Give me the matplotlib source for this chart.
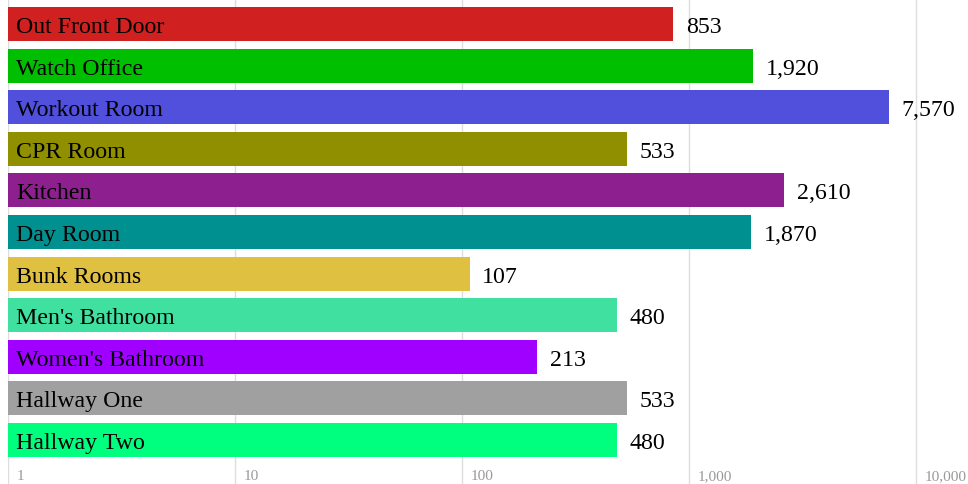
import matplotlib
matplotlib.use("Agg")
import matplotlib.pyplot as plt
import matplotlib.transforms as mtransforms
import numpy as np

categories = ["Out Front Door", "Watch Office", "Workout Room", "CPR Room", "Kitchen",
              "Day Room", "Bunk Rooms", "Men's Bathroom", "Women's Bathroom",
              "Hallway One", "Hallway Two"]
values = [853, 1920, 7570, 533, 2610, 1870, 107, 480, 213, 533, 480]
colors = ["#D02020", "#00BF00", "#5050DC", "#8F8F00", "#8E1F8E", "#009090",
          "#E0C040", "#40E0A0", "#A000FF", "#A0A0A0", "#00FF7F"]
tick_values = [1, 10, 100, 1000, 10000]
tick_labels = ["1", "10", "100", "1,000", "10,000"]

W, H = 968, 485
fig = plt.figure(figsize=(W / 100, H / 100), dpi=100)
ax = fig.add_axes([8 / W, 0, (W - 8) / W, 1])
ax.set_xscale("log")
decade_px = 227.0
ax.set_xlim(1, 10 ** ((W - 8) / decade_px))
pitch = 41.6
first_center = 25.0
ax.set_ylim((H - first_center) / pitch, -first_center / pitch)
ax.axis("off")

for v in tick_values:
    ax.axvline(v, color="#dddddd", lw=1, zorder=0)

y = np.arange(len(categories))
ax.barh(y, values, height=0.82, color=colors, left=1, zorder=2)

serif = ["Liberation Serif", "DejaVu Serif"]
off = mtransforms.offset_copy
for i, (c, v) in enumerate(zip(categories, values)):
    ax.text(1, i, c, transform=off(ax.transData, fig=fig, x=8, y=0, units="dots"),
            ha="left", va="center_baseline", fontsize=17.2, family=serif, color="black", zorder=3)
    ax.text(v, i, f"{v:,}", transform=off(ax.transData, fig=fig, x=13, y=0, units="dots"),
            ha="left", va="center_baseline", fontsize=17.2, family=serif, color="black", zorder=3)

ty = (475 - first_center) / pitch
for v, lab in zip(tick_values, tick_labels):
    ax.text(v, ty, lab, transform=off(ax.transData, fig=fig, x=9, y=0, units="dots"),
            ha="left", va="center_baseline", fontsize=11, family=serif, color="#999999")

fig.savefig("out.png", dpi=100)
